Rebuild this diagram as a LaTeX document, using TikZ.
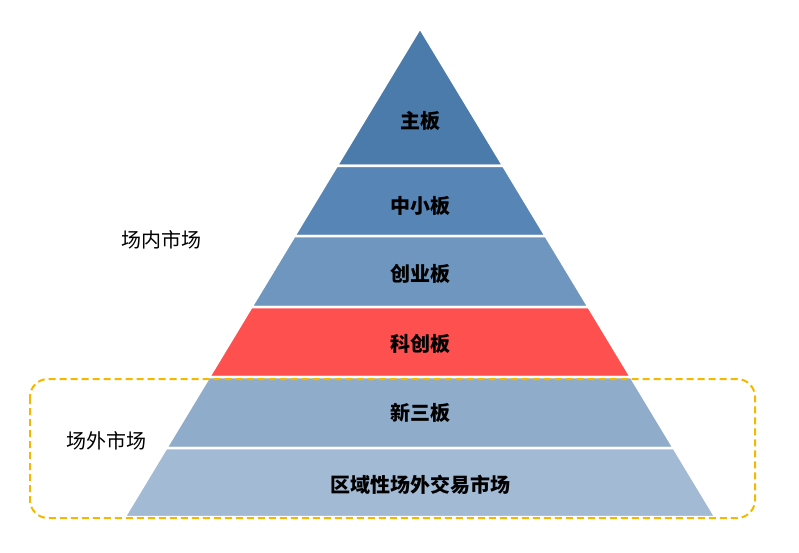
\documentclass[tikz,border=0pt]{standalone}
\usepackage{fontspec}
\newfontfamily\cjk{Noto Sans CJK SC}
\definecolor{c1}{HTML}{4A7BAA}
\definecolor{c2}{HTML}{5786B6}
\definecolor{c3}{HTML}{6F96BE}
\definecolor{c4}{HTML}{FF5050}
\definecolor{c5}{HTML}{8FACCB}
\definecolor{c6}{HTML}{A3BAD5}
\definecolor{dashcol}{HTML}{F5B800}
\tikzset{layer/.style={draw=white,line width=2.5pt},
lbl/.style={font=\cjk\bfseries\fontsize{20}{24}\selectfont},
side/.style={font=\cjk\fontsize{20}{24}\selectfont}}
\newcommand{\hw}[1]{(0.6043*(#1-28))}
\begin{document}
\begin{tikzpicture}[x=1pt,y=-1pt]
\useasboundingbox (0,0) rectangle (799,553);
\fill[c1,layer] (420,28) -- ({420+\hw{166}},166) -- ({420-\hw{166}},166) -- cycle;
\fill[c2,layer] ({420-\hw{166}},166) -- ({420+\hw{166}},166) -- ({420+\hw{236}},236) -- ({420-\hw{236}},236) -- cycle;
\fill[c3,layer] ({420-\hw{236}},236) -- ({420+\hw{236}},236) -- ({420+\hw{307}},307) -- ({420-\hw{307}},307) -- cycle;
\fill[c4,layer] ({420-\hw{307}},307) -- ({420+\hw{307}},307) -- ({420+\hw{377}},377) -- ({420-\hw{377}},377) -- cycle;
\fill[c5,layer] ({420-\hw{377}},377) -- ({420+\hw{377}},377) -- ({420+\hw{448}},448) -- ({420-\hw{448}},448) -- cycle;
\fill[c6,layer] ({420-\hw{448}},448) -- ({420+\hw{448}},448) -- ({420+\hw{517}},517) -- ({420-\hw{517}},517) -- cycle;
\node[lbl] (l1) at (420,121) {主板};
\node[lbl] (l2) at (420,206) {中小板};
\node[lbl] (l3) at (420,274) {创业板};
\node[lbl] (l4) at (420,344) {科创板};
\node[lbl] (l5) at (420,413) {新三板};
\node[lbl] (l6) at (420,485) {区域性场外交易市场};
\node[side] (in) at (161,240) {场内市场};
\node[side] (out) at (106,441) {场外市场};
\draw[dashcol,line width=2pt,dash pattern=on 7pt off 4pt,rounded corners=18pt] (30,379) rectangle (755,518);
\end{tikzpicture}
\end{document}
